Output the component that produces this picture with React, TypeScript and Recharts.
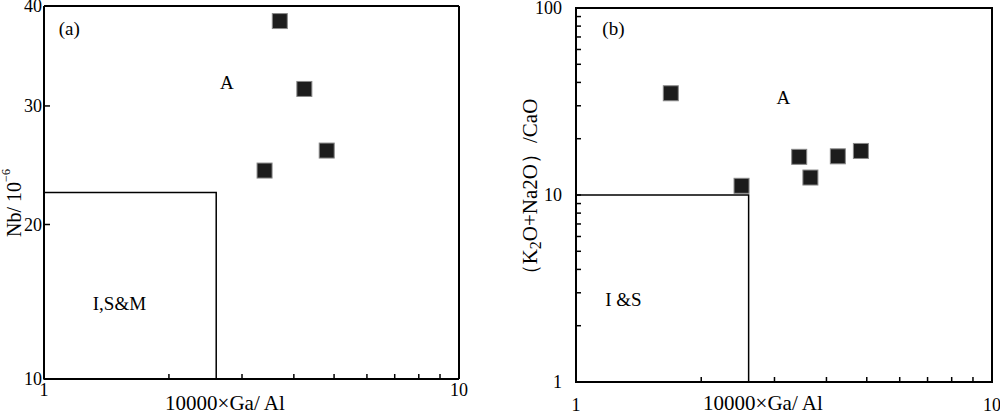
import React from "react";
import { ScatterChart, Scatter, XAxis, YAxis, ReferenceArea, ReferenceDot } from "recharts";

// panel (a): Nb vs 10000*Ga/Al
const gaAlA = [3.7, 4.24, 4.8, 3.4];
const nbA = [38.4, 31.6, 26.0, 24.3];
// panel (b): (K2O+Na2O)/CaO vs 10000*Ga/Al
const gaAlB = [1.69, 2.5, 3.44, 3.66, 4.26, 4.84];
const alkCaoB = [35.0, 11.2, 16.0, 12.4, 16.1, 17.2];

const gaAlTicks = [1, 2, 3, 4, 5, 6, 7, 8, 9, 10];
const gaAlLabels = [1, 10];
const nbTicks = [10, 20, 30, 40];
const nbRightTicks = [20, 30];
const ratioTicks = [1, 2, 3, 4, 5, 6, 7, 8, 9, 10, 20, 30, 40, 50, 60, 70, 80, 90, 100];
const ratioLabels = [1, 10, 100];

// field boundaries
const boundaryGaAl = 2.6;
const boundaryNb = 22.5;
const boundaryRatio = 10;

// annotations
const notesA = ["(a)", "A", "I,S&M"];
const notesAX = [1.15, 2.76, 1.52];
const notesAY = [37.7, 32.2, 14.5];
const notesB = ["(b)", "A", "I &S"];
const notesBX = [1.23, 3.15, 1.3];
const notesBY = [78, 33.4, 2.78];

const FONT = "'Liberation Serif', 'Times New Roman', serif";
const tickStyle = { fill: "#000", fontSize: 18, fontFamily: FONT };

const Square = (props: any) => {
    const { cx, cy } = props;
    if (cx == null || cy == null) return null;
    return <rect x={cx - 7.5} y={cy - 7.5} width={15} height={15} fill="#1c1c1c" stroke="#888" strokeWidth={1} />;
};

const onlyLabels = (keep: number[]) => (v: number) => (keep.includes(v) ? String(v) : "");

const PanelA = () => {
    const pts = gaAlA.map((x, i) => ({ x, y: nbA[i] }));
    return (
        <ScatterChart width={480} height={413} margin={{ top: 5, right: 20, bottom: 0, left: 0 }}>
            <XAxis
                xAxisId="b" dataKey="x" type="number" scale="log" domain={[1, 10]} allowDataOverflow
                ticks={gaAlTicks} interval={0} tickFormatter={onlyLabels(gaAlLabels)}
                tickSize={-5} tickMargin={9} height={34} tick={tickStyle}
                axisLine={{ stroke: "#000", strokeWidth: 2 }} tickLine={{ stroke: "#000", strokeWidth: 1.5 }}
                label={{
                    content: () => (
                        <text x={225} y={410} textAnchor="middle" fontSize={21} fontFamily={FONT} fill="#000">
                            10000×Ga/ Al
                        </text>
                    ),
                }}
            />
            <XAxis
                xAxisId="t" orientation="top" dataKey="x" type="number" scale="log" domain={[1, 10]} allowDataOverflow
                ticks={gaAlTicks.slice(1, 9)} interval={0} tick={false} tickSize={-5} height={1}
                axisLine={{ stroke: "#000", strokeWidth: 2 }} tickLine={{ stroke: "#000", strokeWidth: 1.5 }}
            />
            <YAxis
                yAxisId="l" dataKey="y" type="number" scale="sqrt" domain={[10, 40]} allowDataOverflow
                ticks={nbTicks} interval={0} tickSize={-6} tickMargin={8} width={44} tick={tickStyle}
                axisLine={{ stroke: "#000", strokeWidth: 2 }} tickLine={{ stroke: "#000", strokeWidth: 1.5 }}
                label={{
                    content: () => (
                        <text x={14} y={203} transform="rotate(-90, 14, 203)" textAnchor="middle" dominantBaseline="central"
                            fontSize={20} fontFamily={FONT} fill="#000">
                            Nb/ 10<tspan dy={-8} fontSize={12}>−6</tspan>
                        </text>
                    ),
                }}
            />
            <YAxis
                yAxisId="r" orientation="right" dataKey="y" type="number" scale="sqrt" domain={[10, 40]} allowDataOverflow
                ticks={nbRightTicks} interval={0} tick={false} tickSize={-6} width={1}
                axisLine={{ stroke: "#000", strokeWidth: 2 }} tickLine={{ stroke: "#000", strokeWidth: 1.5 }}
            />
            <ReferenceArea xAxisId="b" yAxisId="l" x1={1} x2={boundaryGaAl} y1={10} y2={boundaryNb}
                fill="none" stroke="#000" strokeWidth={1.5} />
            {notesA.map((t, i) => (
                <ReferenceDot key={t} xAxisId="b" yAxisId="l" x={notesAX[i]} y={notesAY[i]} r={0} fill="none" stroke="none"
                    label={{ value: t, position: "center", fontSize: 19, fontFamily: FONT, fill: "#000" }} />
            ))}
            <Scatter xAxisId="b" yAxisId="l" data={pts} shape={<Square />} isAnimationActive={false} />
            <Scatter xAxisId="t" yAxisId="r" data={pts} shape={() => null} isAnimationActive={false} />
        </ScatterChart>
    );
};

const PanelB = () => {
    const pts = gaAlB.map((x, i) => ({ x, y: alkCaoB[i] }));
    return (
        <ScatterChart width={500} height={413} margin={{ top: 8, right: 8, bottom: 0, left: 0 }}>
            <XAxis
                dataKey="x" type="number" scale="log" domain={[1, 10]} allowDataOverflow
                ticks={gaAlTicks} interval={0} tickFormatter={onlyLabels(gaAlLabels)}
                tickSize={-5} tickMargin={21} height={31} tick={tickStyle}
                axisLine={{ stroke: "#000", strokeWidth: 2 }} tickLine={{ stroke: "#000", strokeWidth: 1.5 }}
                label={{
                    content: () => (
                        <text x={263} y={410} textAnchor="middle" fontSize={21} fontFamily={FONT} fill="#000">
                            10000×Ga/ Al
                        </text>
                    ),
                }}
            />
            <YAxis
                dataKey="y" type="number" scale="log" domain={[1, 100]} allowDataOverflow
                ticks={ratioTicks} interval={0} tickFormatter={onlyLabels(ratioLabels)}
                tickSize={-5} tickMargin={19} width={76} tick={tickStyle}
                axisLine={{ stroke: "#000", strokeWidth: 2 }} tickLine={{ stroke: "#000", strokeWidth: 1.5 }}
                label={{
                    content: () => (
                        <text x={30} y={192} transform="rotate(-90, 30, 192)" textAnchor="middle" dominantBaseline="central"
                            fontSize={21} fontFamily={FONT} fill="#000">
                            （K<tspan dy={5} fontSize={16}>2</tspan><tspan dy={-5}>O+Na2O）/CaO</tspan>
                        </text>
                    ),
                }}
            />
            <ReferenceArea x1={1} x2={10} y1={1} y2={100} fill="none" stroke="#000" strokeWidth={2} />
            <ReferenceArea x1={1} x2={boundaryGaAl} y1={1} y2={boundaryRatio} fill="none" stroke="#000" strokeWidth={1.5} />
            {notesB.map((t, i) => (
                <ReferenceDot key={t} x={notesBX[i]} y={notesBY[i]} r={0} fill="none" stroke="none"
                    label={{ value: t, position: "center", fontSize: 19, fontFamily: FONT, fill: "#000" }} />
            ))}
            <Scatter data={pts} shape={<Square />} isAnimationActive={false} />
        </ScatterChart>
    );
};

export default function App() {
    return (
        <div style={{ position: "absolute", left: 0, top: 0, width: 1000, height: 413, background: "#fff", fontFamily: FONT }}>
            <div style={{ position: "absolute", left: 0, top: 0 }}>
                <PanelA />
            </div>
            <div style={{ position: "absolute", left: 500, top: 0 }}>
                <PanelB />
            </div>
        </div>
    );
}
